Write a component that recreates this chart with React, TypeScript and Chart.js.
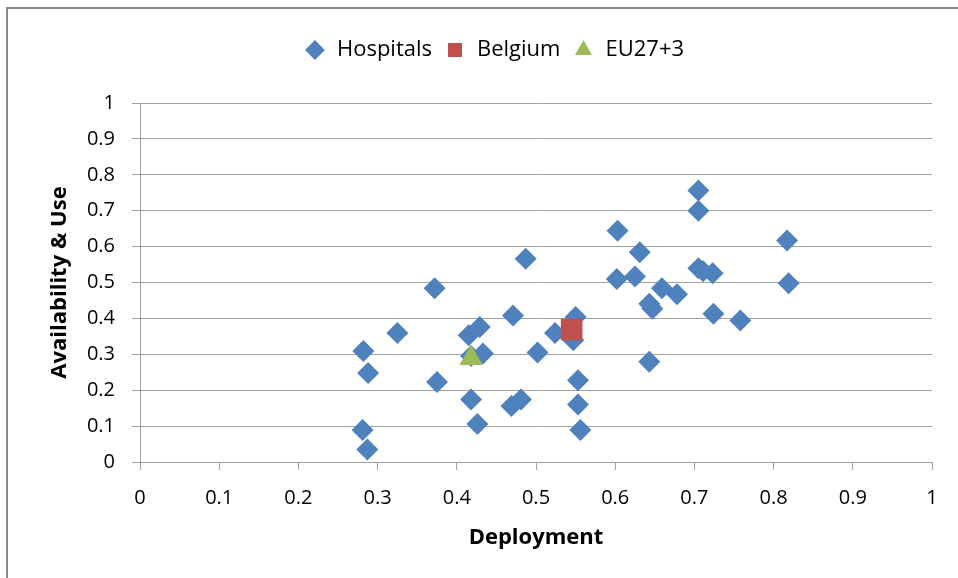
import React, { useEffect, useRef } from "react";
import { Chart, registerables } from "chart.js";

Chart.register(...registerables);

// Hospitals: Deployment (x) and Availability & Use (y)
const hospitalDeployment = [
  0.282, 0.288, 0.281, 0.287, 0.325, 0.372, 0.375, 0.415, 0.429, 0.433,
  0.418, 0.426, 0.418, 0.471, 0.487, 0.469, 0.481, 0.502, 0.524, 0.55,
  0.547, 0.553, 0.553, 0.556, 0.603, 0.602, 0.625, 0.631, 0.659, 0.678,
  0.643, 0.647, 0.643, 0.705, 0.705, 0.705, 0.711, 0.723, 0.724, 0.758,
  0.817, 0.819,
];
const hospitalAvailability = [
  0.309, 0.248, 0.089, 0.035, 0.359, 0.484, 0.223, 0.353, 0.376, 0.302,
  0.174, 0.106, 0.295, 0.408, 0.566, 0.156, 0.174, 0.305, 0.359, 0.404,
  0.339, 0.228, 0.16, 0.089, 0.644, 0.51, 0.517, 0.584, 0.484, 0.467,
  0.441, 0.427, 0.279, 0.756, 0.7, 0.54, 0.531, 0.526, 0.413, 0.394,
  0.617, 0.498,
];
const belgiumDeployment = [0.545];
const belgiumAvailability = [0.369];
const euDeployment = [0.418];
const euAvailability = [0.289];

const seriesLabels = ["Hospitals", "Belgium", "EU27+3"];
const xTickValues = [0, 0.1, 0.2, 0.3, 0.4, 0.5, 0.6, 0.7, 0.8, 0.9, 1];
const xTickLabels = ["0", "0.1", "0.2", "0.3", "0.4", "0.5", "0.6", "0.7", "0.8", "0.9", "1"];
const yTickValues = [0, 0.1, 0.2, 0.3, 0.4, 0.5, 0.6, 0.7, 0.8, 0.9, 1];
const yTickLabels = ["0", "0.1", "0.2", "0.3", "0.4", "0.5", "0.6", "0.7", "0.8", "0.9", "1"];
const xTitle = "Deployment";
const yTitle = "Availability & Use";

const FONT = "'Open Sans', 'DejaVu Sans', sans-serif";
const GRID = "#A0A0A0";

function toPoints(xs: number[], ys: number[]) {
  return xs.map((x, i) => ({ x, y: ys[i] }));
}

const legendMargin = {
  id: "legendMargin",
  beforeLayout(chart: any) {
    const legend = chart.legend;
    if (legend && !legend.__patched) {
      const orig = legend.fit;
      legend.fit = function () {
        orig.call(this);
        this.height += 32;
      };
      legend.__patched = true;
    }
  },
  afterLayout(chart: any) {
    const legend = chart.legend;
    if (legend) {
      legend.left += 28;
      legend.right += 28;
    }
  },
};

export default function App() {
  const ref = useRef<HTMLCanvasElement | null>(null);

  useEffect(() => {
    if (!ref.current) return;
    const tickFont = { family: FONT, size: 20 };
    const titleFont = { family: FONT, size: 22, weight: "bold" as const };
    const chart = new Chart(ref.current, {
      type: "scatter",
      data: {
        datasets: [
          {
            label: seriesLabels[0],
            data: toPoints(hospitalDeployment, hospitalAvailability),
            pointStyle: "rectRot",
            pointRadius: 11,
            backgroundColor: "#4F81BD",
            borderColor: "#4F81BD",
            borderWidth: 0,
            order: 3,
          },
          {
            label: seriesLabels[1],
            data: toPoints(belgiumDeployment, belgiumAvailability),
            pointStyle: "rect",
            pointRadius: 15.3,
            backgroundColor: "#C0504D",
            borderColor: "#C0504D",
            borderWidth: 0,
            order: 2,
          },
          {
            label: seriesLabels[2],
            data: toPoints(euDeployment, euAvailability),
            pointStyle: "triangle",
            pointRadius: 13.5,
            backgroundColor: "#9BBB59",
            borderColor: "#9BBB59",
            borderWidth: 0,
            order: 1,
          },
        ],
      },
      options: {
        animation: false,
        responsive: false,
        events: [],
        layout: { padding: { left: 0, right: 26, top: 27, bottom: 0 } },
        plugins: {
          tooltip: { enabled: false },
          legend: {
            position: "top",
            labels: {
              usePointStyle: true,
              boxHeight: 14,
              padding: 12,
              color: "#000",
              font: { family: FONT, size: 22 },
              sort: (a: any, b: any) => a.datasetIndex - b.datasetIndex,
            },
          },
        },
        scales: {
          x: {
            type: "linear",
            min: 0,
            max: 1,
            afterFit: (s: any) => {
              s.height = 116;
            },
            afterBuildTicks: (s: any) => {
              s.ticks = xTickValues.map((v) => ({ value: v }));
            },
            ticks: {
              padding: 16,
              color: "#000",
              font: tickFont,
              maxRotation: 0,
              autoSkip: false,
              callback: (_v: any, i: number) => xTickLabels[i],
            },
            grid: {
              drawOnChartArea: false,
              drawTicks: true,
              tickLength: 8,
              color: GRID,
            },
            border: { color: GRID, width: 1 },
            title: {
              display: true,
              text: xTitle,
              color: "#000",
              font: titleFont,
              padding: { top: 0, bottom: 27 },
            },
          },
          y: {
            type: "linear",
            min: 0,
            max: 1,
            afterFit: (s: any) => {
              s.width = 140;
            },
            afterBuildTicks: (s: any) => {
              s.ticks = yTickValues.map((v) => ({ value: v }));
            },
            ticks: {
              padding: 17,
              color: "#000",
              font: tickFont,
              autoSkip: false,
              callback: (_v: any, i: number) => yTickLabels[i],
            },
            grid: {
              drawOnChartArea: true,
              drawTicks: true,
              tickLength: 8,
              color: GRID,
            },
            border: { color: GRID, width: 1 },
            title: {
              display: true,
              text: yTitle,
              color: "#000",
              font: titleFont,
              padding: { top: 47, bottom: 0 },
            },
          },
        },
      },
      plugins: [legendMargin],
    });
    return () => chart.destroy();
  }, []);

  return (
    <div
      style={{
        position: "fixed",
        left: 0,
        top: 0,
        width: 958,
        height: 578,
        background: "#fff",
        overflow: "hidden",
      }}
    >
      <div
        style={{
          position: "absolute",
          left: 6,
          top: 7,
          width: 980,
          height: 600,
          borderLeft: "2px solid #888",
          borderTop: "2px solid #888",
        }}
      />
      <canvas
        ref={ref}
        width={958}
        height={578}
        style={{ position: "absolute", left: 0, top: 0, width: 958, height: 578 }}
      />
    </div>
  );
}
